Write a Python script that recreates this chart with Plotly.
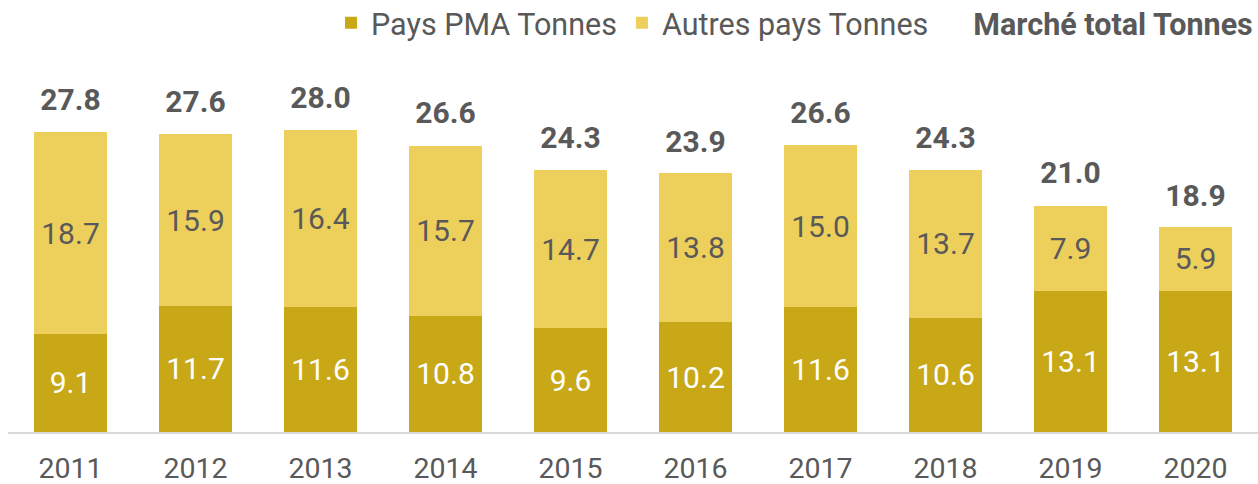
import plotly.graph_objects as go

years = ["2011", "2012", "2013", "2014", "2015", "2016", "2017", "2018", "2019", "2020"]
pays_pma = [9.1, 11.7, 11.6, 10.8, 9.6, 10.2, 11.6, 10.6, 13.1, 13.1]
autres_pays = [18.7, 15.9, 16.4, 15.7, 14.7, 13.8, 15.0, 13.7, 7.9, 5.9]
marche_total = [27.8, 27.6, 28.0, 26.6, 24.3, 23.9, 26.6, 24.3, 21.0, 18.9]

DARK = "#C9A818"
LIGHT = "#EDCF5B"
GREY = "#595959"
FONT = "Roboto"

fig = go.Figure()
fig.add_trace(go.Bar(
    x=years, y=pays_pma, name="Pays PMA Tonnes",
    marker=dict(color=DARK, line=dict(width=0)),
    texttemplate="%{y:.1f}", textposition="inside", insidetextanchor="middle",
    textangle=0, constraintext="none",
    textfont=dict(family=FONT, size=30, color="white"),
))
fig.add_trace(go.Bar(
    x=years, y=autres_pays, name="Autres pays Tonnes",
    marker=dict(color=LIGHT, line=dict(width=0)),
    texttemplate="%{y:.1f}", textposition="inside", insidetextanchor="middle",
    textangle=0, constraintext="none",
    textfont=dict(family=FONT, size=30, color=GREY),
))
# legend-only entry for the totals
fig.add_trace(go.Scatter(
    x=[years[0]], y=[None], name="<b>Marché total Tonnes</b>",
    mode="markers", marker=dict(size=1, color="rgba(0,0,0,0)"),
    hoverinfo="skip",
))
# total labels above the stacks
fig.add_trace(go.Scatter(
    x=years, y=marche_total, mode="markers+text", showlegend=False,
    marker=dict(size=22, color="rgba(0,0,0,0)"),
    text=[f"<b>{v:.1f}</b>" for v in marche_total],
    textposition="top center",
    textfont=dict(family=FONT, size=30, color=GREY),
    hoverinfo="skip",
))

fig.update_layout(
    width=1258, height=484,
    margin=dict(l=8, r=0, t=60, b=52, autoexpand=False),
    barmode="stack", bargap=0.42,
    plot_bgcolor="white", paper_bgcolor="white",
    font=dict(family=FONT, color=GREY),
    showlegend=True,
    legend=dict(
        orientation="h", xref="paper", yref="paper",
        x=1.0, xanchor="right", y=1.0995, yanchor="middle",
        font=dict(family=FONT, size=30.5, color=GREY),
        itemsizing="constant", traceorder="normal",
        bgcolor="rgba(0,0,0,0)", itemwidth=30,
    ),
    xaxis=dict(
        type="category", range=[-0.5, len(years) - 0.5],
        showgrid=False, showline=True, automargin=False,
        linecolor="#D9D9D9", linewidth=1.5, ticks="",
        tickfont=dict(family=FONT, size=28.5, color=GREY),
        ticklabelstandoff=10,
    ),
    yaxis=dict(
        range=[0, 34.5], showgrid=False, showticklabels=False,
        zeroline=False, showline=False, automargin=False,
    ),
)

fig.write_html(
    "out.html",
    config={"displayModeBar": False},
    post_script="document.body.style.margin='0';document.body.style.overflow='hidden';",
)
